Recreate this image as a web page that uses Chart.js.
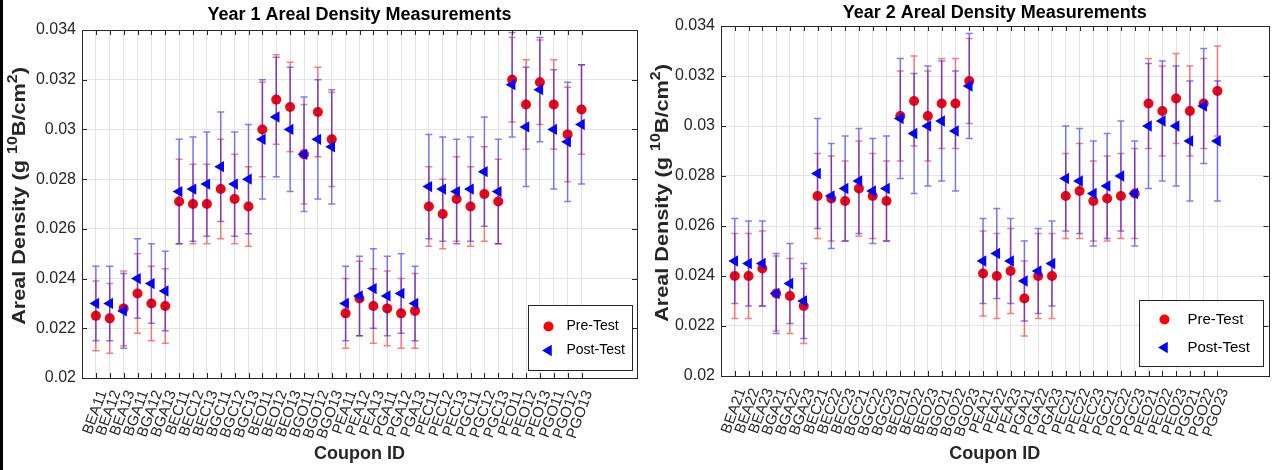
<!DOCTYPE html>
<html>
<head>
<meta charset="utf-8">
<script src="https://cdn.jsdelivr.net/npm/chart.js@4"></script>
<style>
  html, body { margin: 0; padding: 0; background: #fff; }
  body { width: 1275px; height: 470px; position: relative; overflow: hidden; }
  #edge { position: absolute; left: 0; top: 0; width: 3px; height: 470px; background: #000; }
  #year1 { position: absolute; left: 0; top: 0; }
  #year2 { position: absolute; left: 645px; top: 0; }
</style>
</head>
<body>
<div id="edge"></div>
<canvas id="year1" width="645" height="470"></canvas>
<canvas id="year2" width="630" height="470"></canvas>
<script>
// Year 1 coupons
const coupons1 = ['BEA11', 'BEA12', 'BEA13', 'BGA11', 'BGA12', 'BGA13', 'BEC11', 'BEC12', 'BEC13',
  'BGC11', 'BGC12', 'BGC13', 'BEO11', 'BEO12', 'BEO13', 'BGO11', 'BGO12', 'BGO13',
  'PEA11', 'PEA12', 'PEA13', 'PGA11', 'PGA12', 'PGA13', 'PEC11', 'PEC12', 'PEC13',
  'PGC11', 'PGC12', 'PGC13', 'PEO11', 'PEO12', 'PEO13', 'PGO11', 'PGO12', 'PGO13']
const pre1 = [0.0225, 0.0224, 0.0228, 0.0234, 0.0230, 0.0229, 0.0271, 0.0270, 0.0270,
  0.0276, 0.0272, 0.0269, 0.0300, 0.0312, 0.0309, 0.0290, 0.0307, 0.0296,
  0.0226, 0.0232, 0.0229, 0.0228, 0.0226, 0.0227, 0.0269, 0.0266, 0.0272,
  0.0269, 0.0274, 0.0271, 0.0320, 0.0310, 0.0319, 0.0310, 0.0298, 0.0308]
const preErr1 = [0.0014, 0.0014, 0.0015, 0.0016, 0.0015, 0.0015, 0.0017, 0.0016, 0.0016,
  0.0020, 0.0018, 0.0016, 0.0019, 0.0018, 0.0018, 0.0020, 0.0018, 0.0019,
  0.0014, 0.0015, 0.0015, 0.0015, 0.0014, 0.0015, 0.0016, 0.0014, 0.0017,
  0.0016, 0.0019, 0.0017, 0.0017, 0.0018, 0.0017, 0.0018, 0.0019, 0.0018]
const post1 = [0.0230, 0.0230, 0.0227, 0.0240, 0.0238, 0.0235, 0.0275, 0.0276, 0.0278,
  0.0285, 0.0278, 0.0280, 0.0296, 0.0305, 0.0300, 0.0290, 0.0296, 0.0293,
  0.0230, 0.0233, 0.0236, 0.0233, 0.0234, 0.0230, 0.0277, 0.0276, 0.0275,
  0.0276, 0.0283, 0.0275, 0.0318, 0.0301, 0.0316, 0.0300, 0.0295, 0.0302]
const postErr1 = [0.0015, 0.0015, 0.0015, 0.0016, 0.0016, 0.0016, 0.0021, 0.0021, 0.0021,
  0.0022, 0.0021, 0.0022, 0.0024, 0.0024, 0.0025, 0.0023, 0.0024, 0.0023,
  0.0015, 0.0016, 0.0016, 0.0016, 0.0016, 0.0015, 0.0021, 0.0021, 0.0021,
  0.0021, 0.0022, 0.0021, 0.0021, 0.0024, 0.0021, 0.0024, 0.0024, 0.0024]

// Year 2 coupons
const coupons2 = ['BEA21', 'BEA22', 'BEA23', 'BGA21', 'BGA22', 'BGA23', 'BEC21', 'BEC22', 'BEC23',
  'BGC21', 'BGC22', 'BGC23', 'BEO21', 'BEO22', 'BEO23', 'BGO21', 'BGO22', 'BGO23',
  'PEA21', 'PEA22', 'PEA23', 'PGA21', 'PGA22', 'PGA23', 'PEC21', 'PEC22', 'PEC23',
  'PGC21', 'PGC22', 'PGC23', 'PEO21', 'PEO22', 'PEO23', 'PGO21', 'PGO22', 'PGO23']
const pre2 = [0.0240, 0.0240, 0.0243, 0.0233, 0.0232, 0.0228, 0.0272, 0.0271, 0.0270,
  0.0275, 0.0272, 0.0270, 0.0304, 0.0310, 0.0304, 0.0309, 0.0309, 0.0318,
  0.0241, 0.0240, 0.0242, 0.0231, 0.0240, 0.0240, 0.0272, 0.0274, 0.0270,
  0.0271, 0.0272, 0.0273, 0.0309, 0.0306, 0.0311, 0.0306, 0.0309, 0.0314]
const preErr2 = [0.0017, 0.0017, 0.0015, 0.0015, 0.0015, 0.0015, 0.0017, 0.0017, 0.0016,
  0.0019, 0.0017, 0.0016, 0.0018, 0.0018, 0.0018, 0.0018, 0.0018, 0.0017,
  0.0017, 0.0017, 0.0017, 0.0015, 0.0017, 0.0017, 0.0017, 0.0019, 0.0016,
  0.0017, 0.0017, 0.0018, 0.0018, 0.0018, 0.0018, 0.0018, 0.0018, 0.0018]
const post2 = [0.0246, 0.0245, 0.0245, 0.0233, 0.0237, 0.0230, 0.0281, 0.0272, 0.0275,
  0.0278, 0.0274, 0.0275, 0.0303, 0.0297, 0.0300, 0.0302, 0.0298, 0.0316,
  0.0246, 0.0249, 0.0246, 0.0238, 0.0242, 0.0245, 0.0279, 0.0278, 0.0273,
  0.0276, 0.0280, 0.0273, 0.0300, 0.0302, 0.0300, 0.0294, 0.0308, 0.0294]
const postErr2 = [0.0017, 0.0017, 0.0017, 0.0016, 0.0016, 0.0015, 0.0022, 0.0021, 0.0021,
  0.0021, 0.0021, 0.0021, 0.0024, 0.0024, 0.0024, 0.0024, 0.0024, 0.0021,
  0.0017, 0.0018, 0.0017, 0.0016, 0.0017, 0.0017, 0.0021, 0.0021, 0.0021,
  0.0021, 0.0022, 0.0021, 0.0025, 0.0024, 0.0024, 0.0024, 0.0023, 0.0024]

const FONT = "'Liberation Sans', Arial, Helvetica, sans-serif"
const AXIS = '#262626'

// vertical error bars with caps, drawn just before each dataset's markers
const errorBars = {
  id: 'errorBars',
  beforeDatasetDraw(chart, args) {
    const ds = chart.data.datasets[args.index]
    if (!ds.errors) return
    const { ctx, scales: { x, y } } = chart
    ctx.save()
    ctx.strokeStyle = ds.errorColor
    ctx.lineWidth = 1.5
    ctx.beginPath()
    ds.data.forEach((p, i) => {
      const px = x.getPixelForValue(p.x)
      const hi = y.getPixelForValue(p.y + ds.errors[i])
      const lo = y.getPixelForValue(p.y - ds.errors[i])
      ctx.moveTo(px, hi); ctx.lineTo(px, lo)
      ctx.moveTo(px - 3.5, hi); ctx.lineTo(px + 3.5, hi)
      ctx.moveTo(px - 3.5, lo); ctx.lineTo(px + 3.5, lo)
    })
    ctx.stroke()
    ctx.restore()
  }
}

// matlab style box with inward ticks
const frame = {
  id: 'frame',
  afterDatasetsDraw(chart) {
    const { ctx, chartArea: a, scales: { x, y } } = chart
    ctx.save()
    ctx.strokeStyle = AXIS
    ctx.lineWidth = 1
    ctx.beginPath()
    x.ticks.forEach(t => {
      const px = Math.round(x.getPixelForValue(t.value)) + 0.5
      ctx.moveTo(px, a.bottom); ctx.lineTo(px, a.bottom - 5)
      ctx.moveTo(px, a.top); ctx.lineTo(px, a.top + 5)
    })
    y.ticks.forEach(t => {
      const py = Math.round(y.getPixelForValue(t.value)) + 0.5
      ctx.moveTo(a.left, py); ctx.lineTo(a.left + 5, py)
      ctx.moveTo(a.right, py); ctx.lineTo(a.right - 5, py)
    })
    ctx.stroke()
    ctx.strokeRect(Math.round(a.left) + 0.5, Math.round(a.top) + 0.5,
      Math.round(a.right - a.left), Math.round(a.bottom - a.top))
    ctx.restore()
  }
}

// title centred over the plot box, and the y label with real superscripts
const labels = {
  id: 'labels',
  afterDraw(chart, args, o) {
    const { ctx, chartArea: a } = chart
    ctx.save()
    ctx.fillStyle = '#000'
    ctx.font = 'bold 18px ' + FONT
    ctx.textAlign = 'center'
    ctx.textBaseline = 'middle'
    ctx.fillText(o.title, (a.left + a.right) / 2, o.titleY)
    ctx.restore()

    const parts = [['Areal Density (g ', 0], ['10', 1], ['B/cm', 0], ['2', 1], [')', 0]]
    const fontOf = sup => 'bold ' + (sup ? o.supSize : o.size) + 'px ' + FONT
    let total = 0
    parts.forEach(([t, sup]) => { ctx.font = fontOf(sup); total += ctx.measureText(t).width })
    ctx.save()
    ctx.translate(o.x, (a.top + a.bottom) / 2 + o.dy)
    ctx.rotate(-Math.PI / 2)
    ctx.scale(o.stretch, 1)
    ctx.fillStyle = AXIS
    ctx.textBaseline = 'middle'
    let cx = -total / 2
    parts.forEach(([t, sup]) => {
      ctx.font = fontOf(sup)
      ctx.fillText(t, cx, sup ? -o.size * 0.38 : 0)
      cx += ctx.measureText(t).width
    })
    ctx.restore()
  }
}

// legend box in the lower right corner of the plot
const boxLegend = {
  id: 'boxLegend',
  afterDraw(chart, args, o) {
    const { ctx, chartArea: a } = chart
    const left = Math.round(a.right - o.right - o.w) + 0.5
    const top = Math.round(a.bottom - o.bottom - o.h) + 0.5
    ctx.save()
    ctx.fillStyle = '#fff'
    ctx.fillRect(left, top, o.w, o.h)
    ctx.strokeStyle = AXIS
    ctx.lineWidth = 1
    ctx.strokeRect(left, top, o.w, o.h)
    chart.data.datasets.forEach((ds, i) => {
      const cx = left + o.markX
      const cy = top + o.rows[i]
      ctx.fillStyle = ds.pointBackgroundColor
      ctx.beginPath()
      if (ds.pointStyle === 'circle') {
        ctx.arc(cx, cy, ds.pointRadius, 0, Math.PI * 2)
      } else {
        const r = ds.pointRadius
        ctx.moveTo(cx - r, cy)
        ctx.lineTo(cx + 0.5 * r, cy - 0.866 * r)
        ctx.lineTo(cx + 0.5 * r, cy + 0.866 * r)
        ctx.closePath()
      }
      ctx.fill()
      ctx.fillStyle = '#000'
      ctx.font = o.fontSize + 'px ' + FONT
      ctx.textBaseline = 'middle'
      ctx.fillText(ds.label, left + o.textX, cy)
    })
    ctx.restore()
  }
}

function makeChart(id, coupons, pre, preErr, post, postErr, g) {
  const pts = vals => vals.map((v, i) => ({ x: i + 1, y: v }))
  return new Chart(document.getElementById(id), {
    type: 'scatter',
    data: {
      datasets: [
        {
          label: 'Pre-Test', data: pts(pre), errors: preErr, errorColor: 'rgba(255,0,0,0.5)',
          pointStyle: 'circle', pointRadius: 5, pointBackgroundColor: '#ff0000',
          pointBorderWidth: 0, order: 1
        },
        {
          label: 'Post-Test', data: pts(post), errors: postErr, errorColor: 'rgba(0,0,255,0.5)',
          pointStyle: 'triangle', pointRotation: -90, pointRadius: 6.5,
          pointBackgroundColor: '#0000ff', pointBorderWidth: 0, order: 0
        }
      ]
    },
    options: {
      responsive: false,
      animation: false,
      layout: { padding: { left: 0, right: g.padRight, top: g.padTop, bottom: 0 } },
      plugins: {
        legend: { display: false },
        tooltip: { enabled: false },
        title: { display: false },
        labels: g.labels,
        boxLegend: g.legend
      },
      scales: {
        x: {
          type: 'linear', min: 0, max: g.xMax,
          afterBuildTicks: s => { s.ticks = coupons.map((c, i) => ({ value: i + 1 })) },
          afterFit: s => { s.height = g.xHeight },
          ticks: {
            callback: v => coupons[v - 1], autoSkip: false,
            minRotation: 70, maxRotation: 70, padding: 10, labelOffset: 7,
            color: AXIS, font: { family: FONT, size: 15 }
          },
          grid: { color: '#e4e4e4', drawTicks: false },
          border: { display: false },
          title: {
            display: true, text: 'Coupon ID', color: AXIS,
            font: { family: FONT, size: 18, weight: 'bold' },
            padding: { top: 0, bottom: 5 }
          }
        },
        y: {
          min: 0.02, max: 0.034,
          afterFit: s => { s.width = g.yWidth },
          ticks: {
            stepSize: 0.002, padding: 6,
            callback: v => String(Number(v.toFixed(3))),
            color: AXIS, font: { family: FONT, size: 16 }
          },
          grid: { color: '#e4e4e4', drawTicks: false },
          border: { display: false }
        }
      }
    },
    plugins: [errorBars, frame, labels, boxLegend]
  })
}

makeChart('year1', coupons1, pre1, preErr1, post1, postErr1, {
  padRight: 8, padTop: 30, xMax: 40, xHeight: 92, yWidth: 82,
  labels: { title: 'Year 1 Areal Density Measurements', titleY: 15, x: 20, dy: -8, size: 19, supSize: 14, stretch: 1.14 },
  legend: { w: 104, h: 65, right: 5, bottom: 8, rows: [21, 45], markX: 20, textX: 38, fontSize: 14 }
})

makeChart('year2', coupons2, pre2, preErr2, post2, postErr2, {
  padRight: 3, padTop: 26, xMax: 39.7, xHeight: 94, yWidth: 76,
  labels: { title: 'Year 2 Areal Density Measurements', titleY: 13, x: 18, dy: -8, size: 19, supSize: 14, stretch: 1.14 },
  legend: { w: 124, h: 66, right: 6, bottom: 10, rows: [19, 47], markX: 25, textX: 48, fontSize: 15 }
})
</script>
</body>
</html>
